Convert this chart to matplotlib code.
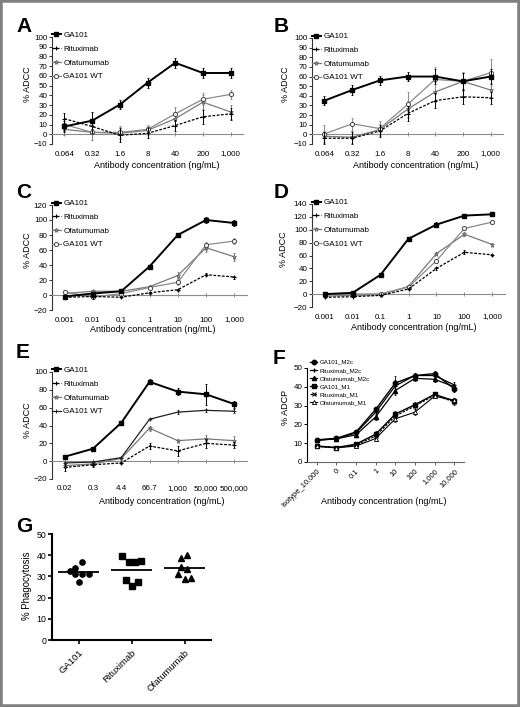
import matplotlib
matplotlib.use('Agg')
import matplotlib.pyplot as plt
from matplotlib import transforms
from matplotlib.patches import Rectangle
import numpy as np

plt.rcParams['font.family'] = ['Liberation Sans', 'DejaVu Sans']

# ---------------- DATA ----------------
series_names = ['GA101', 'Rituximab', 'Ofatumumab', 'GA101 WT']

a_conc = ['0.064', '0.32', '1.6', '8', '40', '200', '1,000']
a_ga101 = [8, 14, 30.5, 53, 73.5, 63, 63]
a_ritux = [16, 8, -1, 1, 9, 18, 21]
a_ofatu = [5, 2, 1, 4, 16, 33, 23]
a_wt = [10, 2, 2, 5, 21, 36, 41]
a_ga101_err = [6, 9, 5, 5, 5, 5, 5]
a_ritux_err = [6, 7, 7, 5, 6, 7, 6]
a_ofatu_err = [6, 8, 6, 5, 7, 7, 7]
a_wt_err = [6, 8, 6, 5, 7, 6, 5]

b_conc = ['0.064', '0.32', '1.6', '8', '40', '200', '1,000']
b_ga101 = [35, 46, 56, 60, 60, 55, 60]
b_ritux = [-4, -4, 3.5, 21.5, 35, 39, 38]
b_ofatu = [-2, -3, 5, 26, 44, 55, 46]
b_wt = [0.5, 11, 6, 31, 57, 55, 64]
b_ga101_err = [5, 5, 5, 5, 8, 9, 8]
b_ritux_err = [6, 6, 6, 8, 8, 8, 6]
b_ofatu_err = [6, 6, 6, 9, 10, 9, 7]
b_wt_err = [9, 6, 8, 13, 13, 10, 14]

c_conc = ['0.001', '0.01', '0.1', '1', '10', '100', '1,000']
c_ga101 = [-2, 2, 5, 38, 80, 100, 96]
c_ritux = [-3, -2, -3, 3, 7, 27, 24]
c_ofatu = [2, 5, 5, 11, 26, 63, 51]
c_wt = [4, -3, 2, 10, 17, 67, 72]
c_ga101_err = [1, 1, 1, 2, 2, 4, 4]
c_ritux_err = [1, 1, 1, 1, 1, 2, 2]
c_ofatu_err = [1, 2, 1, 3, 5, 5, 5]
c_wt_err = [1, 2, 1, 2, 4, 4, 4]

d_conc = ['0.001', '0.01', '0.1', '1', '10', '100', '1,000']
d_ga101 = [0, 2, 30, 86, 108, 122, 124]
d_ritux = [-5, -4, -2, 8, 40, 65, 61]
d_ofatu = [-3, -2, -1, 12, 63, 93, 77]
d_wt = [0, 0, 0.5, 11, 52, 102, 112]
d_ga101_err = [1, 1, 1, 2, 4, 2, 2]
d_ritux_err = [1, 1, 1, 2, 2, 3, 2]
d_ofatu_err = [1, 1, 1, 2, 2, 3, 2]
d_wt_err = [1, 1, 1, 2, 2, 3, 2]

e_conc = ['0.02', '0.3', '4.4', '66.7', '1,000', '50,000', '500,000']
e_ga101 = [5, 14, 43, 89, 78, 75, 64]
e_ritux = [-7, -4, -2, 17, 11.5, 20, 18]
e_ofatu = [-5, -3, 3, 37, 23, 25, 23]
e_wt = [-2, -1, 4, 47, 55, 57, 56]
e_ga101_err = [2, 1, 1, 3, 4, 12, 4]
e_ritux_err = [4, 2, 1, 3, 6, 5, 3]
e_ofatu_err = [1, 1, 1, 3, 2, 4, 5]
e_wt_err = [1, 1, 1, 1, 2, 2, 2]

f_conc = ['Isotype_10,000', '0', '0.1', '1', '10', '100', '1,000', '10,000']
f_names = ['GA101_M2c', 'Rituximab_M2c', 'Ofatumumab_M2c',
           'GA101_M1', 'Rituximab_M1', 'Ofatumumab_M1']
f_ga101_m2c = [11.8, 12.6, 16, 28, 42, 46, 47, 39]
f_ritux_m2c = [11.6, 12.4, 15.5, 26.5, 40.5, 46, 46, 41]
f_ofatu_m2c = [11.5, 12.3, 14.5, 24, 38, 44.5, 44, 40]
f_ga101_m1 = [8.5, 7.7, 9.5, 14.8, 25.5, 30.5, 36, 32.5]
f_ritux_m1 = [8.4, 7.6, 9, 13.8, 24.5, 29.8, 35.5, 32]
f_ofatu_m1 = [8.3, 7.5, 8.5, 12.5, 23, 26.5, 35, 32.8]
f_err = [0.8, 0.8, 1, 1.5, 1.5, 1.5, 1.2, 1.5]
f_ritux_m2c_err = [0.8, 0.8, 1, 1.5, 5, 1.5, 1.2, 1.5]

g_groups = ['GA101', 'Rituximab', 'Ofatumumab']
g_ga101 = [32.6, 34.1, 37, 31, 31, 31.3, 27.4]
g_ritux = [39.8, 36.9, 36.9, 37.2, 28.4, 25.6, 27.2]
g_ofatu = [38.9, 40.2, 34.6, 33.4, 31, 29, 29.3]

# ---------------- LAYOUT ----------------
W, H = 520, 707
fig = plt.figure(figsize=(W / 100, H / 100), dpi=100)
fig.patch.set_facecolor('white')


def add_ax(l, t, r, b):
    return fig.add_axes([l / W, 1 - b / H, (r - l) / W, (b - t) / H])


def ftext(x, y, s, **kw):
    return fig.text(x / W, 1 - y / H, s, **kw)


STY = {
    'GA101': dict(color='black', lw=1.4, ls='-', marker='s', ms=3.0,
                  mfc='black', mec='black', zorder=6),
    'Rituximab': dict(color='black', lw=0.9, ls=(0, (2.2, 1.2)), marker='+',
                      ms=3.2, mew=0.8, mfc='black', mec='black', zorder=5),
    'Ofatumumab': dict(color='#7a7a7a', lw=0.9, ls='-', marker='*', ms=3.6,
                       mfc='#8a8a8a', mec='#555555', mew=0.4, zorder=4),
    'GA101 WT': dict(color='#8a8a8a', lw=0.9, ls='-', marker='o', ms=3.0,
                     mfc='white', mec='#444444', mew=0.7, zorder=4),
}

TICK_FS = 5.8
LAB_FS = 6.5
LEG_FS = 5.8


def adcc_panel(box, letter, letter_xy, cats, values, errors, ylim, ystep,
               ylab_xy, xlab_xy, wt_style=None):
    l, t, r, b = box
    ax = add_ax(l, t, r, b)
    x = np.arange(len(cats))
    handles = []
    for name, v, e in zip(series_names, values, errors):
        st = dict(STY[name])
        if name == 'GA101 WT' and wt_style is not None:
            st.update(wt_style)
        ax.errorbar(x, v, yerr=e, fmt='none', ecolor=st['color'],
                    elinewidth=0.7, capsize=1.0, capthick=0.6,
                    zorder=st['zorder'] - 0.5)
        h, = ax.plot(x, v, label=name, **st)
        handles.append(h)
    ax.set_xlim(-0.45, len(cats) - 0.55)
    ax.set_ylim(*ylim)
    ax.set_yticks(np.arange(ylim[0], ylim[1] + 0.1, ystep))
    ax.set_yticklabels([('\u2212%d' % -v) if v < 0 else '%d' % v
                        for v in np.arange(ylim[0], ylim[1] + 0.1, ystep)])
    for s in ['top', 'right']:
        ax.spines[s].set_visible(False)
    ax.spines['bottom'].set_position(('data', 0))
    ax.spines['bottom'].set_color('#8c8c8c')
    ax.spines['bottom'].set_linewidth(0.8)
    ax.spines['left'].set_linewidth(0.8)
    ax.spines['left'].set_color('#333333')
    ax.set_xticks(x)
    ax.tick_params(axis='x', length=2.2, width=0.7, color='#8c8c8c',
                   labelbottom=False, direction='inout')
    ax.tick_params(axis='y', length=2.2, width=0.7, color='#333333',
                   labelsize=TICK_FS, pad=1.2)
    trans = transforms.blended_transform_factory(ax.transData, fig.transFigure)
    for xi, c in zip(x, cats):
        ax.text(xi, 1 - (b + 10) / H, c, transform=trans, ha='center',
                va='center', fontsize=TICK_FS, clip_on=False)
    ftext(xlab_xy[0], xlab_xy[1], 'Antibody concentration (ng/mL)',
          ha='center', va='center', fontsize=LAB_FS)
    ftext(ylab_xy[0], ylab_xy[1], '% ADCC', rotation=90, ha='center',
          va='center', fontsize=LAB_FS)
    ftext(letter_xy[0], letter_xy[1], letter, ha='left', va='center',
          fontsize=15, fontweight='bold')
    ax.legend(handles=handles, loc='upper left', bbox_to_anchor=(0.0, 1.05),
              frameon=False, fontsize=LEG_FS, handlelength=1.1,
              handletextpad=0.3, labelspacing=0.75, borderpad=0,
              borderaxespad=0)
    ax.set_facecolor('none')
    return ax


adcc_panel((52, 37, 243, 144), 'A', (16, 27), a_conc,
           [a_ga101, a_ritux, a_ofatu, a_wt],
           [a_ga101_err, a_ritux_err, a_ofatu_err, a_wt_err],
           (-10, 100), 10, (27, 84), (157, 166))
adcc_panel((312, 38, 503, 144), 'B', (274, 27), b_conc,
           [b_ga101, b_ritux, b_ofatu, b_wt],
           [b_ga101_err, b_ritux_err, b_ofatu_err, b_wt_err],
           (-10, 100), 10, (285, 84), (416, 166))
adcc_panel((52, 205, 247, 310), 'C', (16, 192), c_conc,
           [c_ga101, c_ritux, c_ofatu, c_wt],
           [c_ga101_err, c_ritux_err, c_ofatu_err, c_wt_err],
           (-20, 120), 20, (27, 250), (153, 329))
adcc_panel((312, 204, 505, 307), 'D', (274, 192), d_conc,
           [d_ga101, d_ritux, d_ofatu, d_wt],
           [d_ga101_err, d_ritux_err, d_ofatu_err, d_wt_err],
           (-20, 140), 20, (284, 249), (414, 328))
adcc_panel((52, 372, 247, 479), 'E', (16, 353), e_conc,
           [e_ga101, e_ritux, e_ofatu, e_wt],
           [e_ga101_err, e_ritux_err, e_ofatu_err, e_wt_err],
           (-20, 100), 20, (27, 420), (162, 502),
           wt_style=dict(color='#222222', marker='+', mec='#222222', ms=3.5))

# ---------------- PANEL F ----------------
axf = add_ax(307, 368, 464, 462)
xf = np.arange(len(f_conc))
f_vals = [f_ga101_m2c, f_ritux_m2c, f_ofatu_m2c, f_ga101_m1, f_ritux_m1, f_ofatu_m1]
f_errs = [f_err, f_ritux_m2c_err, f_err, f_err, f_err, f_err]
f_sty = [
    dict(marker='o', ms=3.2, mfc='black', mec='black', ls='-', lw=1.0),
    dict(marker='+', ms=3.5, mfc='black', mec='black', mew=0.9, ls='-', lw=0.9),
    dict(marker='^', ms=3.0, mfc='black', mec='black', ls='-', lw=0.9),
    dict(marker='s', ms=3.0, mfc='black', mec='black', ls='-', lw=1.0),
    dict(marker='x', ms=2.8, mfc='black', mec='black', mew=0.8, ls=(0, (2, 1)), lw=0.9),
    dict(marker='^', ms=3.0, mfc='white', mec='black', mew=0.6, ls='-', lw=0.8),
]
fh = []
for name, v, e, st in zip(f_names, f_vals, f_errs, f_sty):
    axf.errorbar(xf, v, yerr=e, fmt='none', ecolor='black', elinewidth=0.6,
                 capsize=1.0, capthick=0.5)
    h, = axf.plot(xf, v, color='black', label=name, **st)
    fh.append(h)
axf.set_xlim(-0.5, len(f_conc) - 0.5)
axf.set_ylim(0, 50)
axf.set_yticks(np.arange(0, 51, 10))
for s in ['top', 'right']:
    axf.spines[s].set_visible(False)
axf.spines['left'].set_linewidth(0.8)
axf.spines['bottom'].set_linewidth(0.8)
axf.spines['bottom'].set_color('#666666')
axf.set_xticks(xf)
axf.set_xticklabels(f_conc, rotation=45, ha='right', va='top',
                    rotation_mode='anchor', fontsize=5.4)
axf.tick_params(axis='x', length=2.2, width=0.7, pad=2, color='#666666')
axf.tick_params(axis='y', length=2.2, width=0.7, labelsize=TICK_FS, pad=1.2)
axf.legend(handles=fh, loc='upper left', bbox_to_anchor=(0.02, 1.09),
           frameon=False, fontsize=4.4, handlelength=1.2, handletextpad=0.3,
           labelspacing=0.45, borderpad=0, borderaxespad=0)
ftext(384, 502, 'Antibody concentration (ng/mL)', ha='center', va='center',
      fontsize=LAB_FS)
ftext(285, 407, '% ADCP', rotation=90, ha='center', va='center', fontsize=LAB_FS)
ftext(273, 359, 'F', ha='left', va='center', fontsize=15, fontweight='bold')

# ---------------- PANEL G ----------------
axg = add_ax(52, 534, 211, 640)
g_vals = [g_ga101, g_ritux, g_ofatu]
g_markers = ['o', 's', '^']
g_offsets = [
    [-0.16, -0.06, 0.07, -0.06, 0.07, 0.19, 0.0],
    [-0.18, -0.05, 0.075, 0.18, -0.11, 0.0, 0.13],
    [-0.06, 0.05, -0.06, 0.05, -0.12, 0.0, 0.13],
]
for i, (v, m, off) in enumerate(zip(g_vals, g_markers, g_offsets)):
    axg.plot(np.array(off) + i, v, ls='none', marker=m, ms=3.8,
             mfc='black', mec='black')
    axg.hlines(np.mean(v), i - 0.38, i + 0.38, color='black', lw=1.3)
axg.set_xlim(-0.5, 2.5)
axg.set_ylim(0, 50)
axg.set_yticks(np.arange(0, 51, 10))
axg.set_xticks(range(len(g_groups)))
axg.set_xticklabels(g_groups, rotation=45, ha='right', va='top',
                    rotation_mode='anchor', fontsize=6.8)
for s in ['top', 'right']:
    axg.spines[s].set_visible(False)
for s in ['left', 'bottom']:
    axg.spines[s].set_linewidth(1.5)
axg.tick_params(axis='x', length=3, width=1.2, pad=3)
axg.tick_params(axis='y', length=3, width=1.2, labelsize=6.3, pad=1.2)
ftext(27, 586, '% Phagocytosis', rotation=90, ha='center', va='center',
      fontsize=6.9)
ftext(16, 526, 'G', ha='left', va='center', fontsize=15, fontweight='bold')

# border
fig.patches.append(Rectangle((0, 0), 1, 1, transform=fig.transFigure,
                             fill=False, edgecolor='#808080', lw=4))

fig.savefig('out.png', dpi=100, facecolor='white')
